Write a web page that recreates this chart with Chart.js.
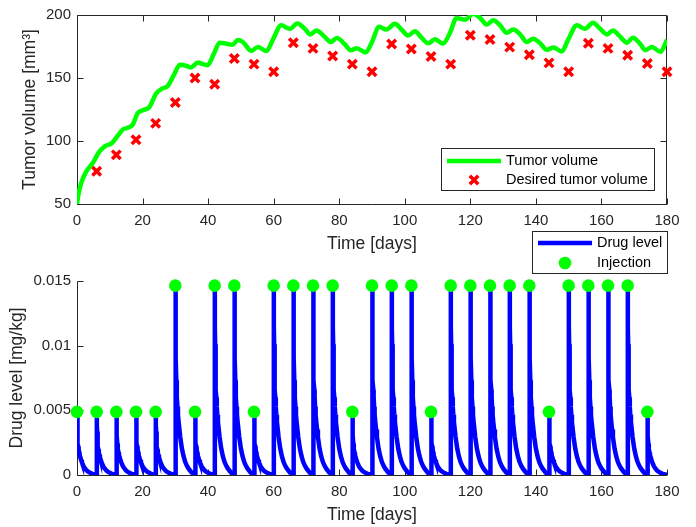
<!DOCTYPE html>
<html lang="en">
<head>
<meta charset="UTF-8">
<title>Tumor volume and drug level</title>
<script src="https://cdn.jsdelivr.net/npm/chart.js"></script>
<style>
  body { margin: 0; background: #fff; }
  #wrap { position: relative; width: 696px; height: 527px; }
  canvas { position: absolute; left: 0; }
  #tumorChart { top: 0; }
  #drugChart { top: 225px; }
</style>
</head>
<body>
<div id="wrap">
  <canvas id="tumorChart" width="696" height="258"></canvas>
  <canvas id="drugChart" width="696" height="302"></canvas>
</div>
<script>
// simulated tumor volume (mm^3)
const tumorDays = [0, 0.4, 1.2, 2.75, 4.8, 6.8, 8.6, 10.6, 12.4, 13.9, 15.5, 17, 18.5, 20.3, 22.1,
  24.1, 25.9, 27.6, 29.5, 31.4, 33.5, 34.7, 36.9, 38.4, 39.8, 41.8, 43.5, 45.5, 47.4, 49.1,
  50.6, 53.2, 55.2, 57.8, 59.8, 62.3, 64.9, 67.2, 69.5, 71.2, 73, 75.3, 77.4, 79.3, 81.7,
  83.5, 85.3, 88.1, 89.9, 92.2, 94.4, 97, 99, 101, 103.1, 105.1, 107.2, 109.2, 111.7, 113.8,
  115.8, 118.4, 120.9, 123, 125, 127, 129.1, 131.1, 133.1, 135.2, 137.2, 139.2, 141.3, 143.3,
  145.4, 147.9, 149.9, 152.5, 155, 157.4, 159.6, 161.7, 163.5, 165.5, 167.8, 169.6, 171.9,
  173.4, 175.4, 178, 180];
const tumorVolume = [50, 57, 66, 75.5, 82.5, 91.5, 96, 98.2, 104, 109, 110.5, 113, 122, 124.6, 127,
  137.5, 141.5, 143.5, 152, 160.5, 159.5, 158.3, 162.3, 161, 160.2, 169.5, 178, 177.3, 176.4, 180.2,
  178.6, 171.6, 174.7, 171.4, 180.7, 191.8, 189, 193.2, 189, 184.6, 187.7, 183.4, 178.6, 181.7, 176.8,
  172.1, 173.7, 170.3, 178, 190.6, 188.5, 193, 188.5, 183.8, 187.2, 182, 177.6, 180.7, 177.3, 185.9,
  197.7, 196.3, 201, 197.7, 192.4, 195.9, 191.8, 185.9, 188.5, 184.6, 178.6, 181.2, 177.6, 172.4,
  174.2, 171.1, 180.7, 191.8, 189, 193.8, 189, 184.6, 187.7, 183.4, 178, 182, 176.8,
  172.1, 174.7, 170.8, 180.2];

// target volume, one value every 6 days
const desiredDays = [6, 12, 18, 24, 30, 36, 42, 48, 54, 60, 66, 72, 78, 84, 90,
  96, 102, 108, 114, 120, 126, 132, 138, 144, 150, 156, 162, 168, 174, 180];
const desiredVolume = [76, 89, 101, 114, 130.5, 150, 145, 165.5, 161, 155, 178, 173.5, 167.5, 161, 155,
  177, 173, 167, 161, 184, 180.5, 174.5, 168.5, 162, 155, 177.5, 173.5, 168, 161.5, 155];

// injections (mg/kg)
const injectionDays = [0, 6, 12, 18, 24, 30, 36, 42, 48, 54, 60, 66, 72, 78, 84,
  90, 96, 102, 108, 114, 120, 126, 132, 138, 144, 150, 156, 162, 168, 174];
const injectionDose = [0.00488, 0.00488, 0.00488, 0.00488, 0.00488, 0.01464, 0.00488, 0.01464, 0.01464, 0.00488,
  0.01464, 0.01464, 0.01464, 0.01464, 0.00488, 0.01464, 0.01464, 0.01464, 0.00488, 0.01464,
  0.01464, 0.01464, 0.01464, 0.01464, 0.00488, 0.01464, 0.01464, 0.01464, 0.01464, 0.00488];

// drug level after one injection, days since the dose
const pulseOffsets = [0, 0.05, 0.1, 0.15, 0.2, 0.3, 0.4, 0.5, 0.65, 0.8, 1, 1.25, 1.5, 2, 2.5, 3, 3.5, 4, 5, 6];
const lowDoseLevel = [0.00488, 0.00429, 0.00381, 0.00337, 0.00303, 0.00244, 0.0022, 0.002, 0.00176, 0.00156,
  0.00137, 0.00117, 0.00098, 0.00068, 0.00049, 0.00034, 0.00024, 0.00017, 0.00006, 0.00002];
const highDoseLevel = [0.01464, 0.01288, 0.01142, 0.0101, 0.00908, 0.00732, 0.00659, 0.006, 0.00527, 0.00468,
  0.0041, 0.00351, 0.00293, 0.00205, 0.00146, 0.00102, 0.00073, 0.00051, 0.00018, 0.00006];

const dayTicks = [0, 20, 40, 60, 80, 100, 120, 140, 160, 180];
const dayTickLabels = ['0', '20', '40', '60', '80', '100', '120', '140', '160', '180'];
const volumeTicks = [50, 100, 150, 200];
const volumeTickLabels = ['50', '100', '150', '200'];
const drugTicks = [0, 0.005, 0.01, 0.015];
const drugTickLabels = ['0', '0.005', '0.01', '0.015'];

const axisColor = '#262626';
const fontFamily = '"Liberation Sans", Arial, Helvetica, sans-serif';
Chart.defaults.font.family = fontFamily;
Chart.defaults.color = axisColor;

// axis box with inward tick marks
const innerAxes = {
  id: 'innerAxes',
  beforeDatasetsDraw(chart, args, opts) {
    const { ctx, chartArea: a, scales: { x, y } } = chart;
    const len = 6;
    const L = a.left + 0.5, B = Math.round(a.bottom) + 0.5;
    const R = Math.round(a.right) - 0.5, T = Math.round(a.top) + 0.5;
    ctx.save();
    ctx.strokeStyle = axisColor;
    ctx.lineWidth = 1;
    ctx.beginPath();
    ctx.moveTo(L, T);
    ctx.lineTo(L, B);
    ctx.lineTo(R + 0.5, B);
    if (opts.box) {
      ctx.moveTo(L, T);
      ctx.lineTo(R, T);
      ctx.lineTo(R, B);
    }
    x.ticks.forEach(t => {
      const px = Math.round(x.getPixelForValue(t.value)) + 0.5;
      ctx.moveTo(px, B);
      ctx.lineTo(px, B - len);
      if (opts.box) {
        ctx.moveTo(px, T);
        ctx.lineTo(px, T + len);
      }
    });
    y.ticks.forEach(t => {
      const py = Math.round(y.getPixelForValue(t.value)) + 0.5;
      ctx.moveTo(L, py);
      ctx.lineTo(L + len, py);
      if (opts.box) {
        ctx.moveTo(R, py);
        ctx.lineTo(R - len, py);
      }
    });
    ctx.stroke();
    ctx.restore();
  }
};

// boxed legend at a fixed spot
const boxLegend = {
  id: 'boxLegend',
  afterDraw(chart, args, opts) {
    const { ctx } = chart;
    const [x0, y0, x1, y1] = opts.box;
    ctx.save();
    ctx.fillStyle = '#fff';
    ctx.fillRect(x0, y0, x1 - x0, y1 - y0);
    ctx.strokeStyle = axisColor;
    ctx.lineWidth = 1;
    ctx.strokeRect(x0 + 0.5, y0 + 0.5, x1 - x0 - 1, y1 - y0 - 1);
    ctx.font = '14.5px ' + fontFamily;
    ctx.textBaseline = 'middle';
    opts.rows.forEach(row => {
      const ds = chart.data.datasets[row.dataset];
      const [s0, s1] = opts.sample;
      const cx = (s0 + s1) / 2;
      if (row.kind === 'line') {
        ctx.strokeStyle = ds.borderColor;
        ctx.lineWidth = ds.borderWidth;
        ctx.beginPath();
        ctx.moveTo(s0, row.y);
        ctx.lineTo(s1, row.y);
        ctx.stroke();
      } else if (row.kind === 'x') {
        const r = ds.pointRadius * Math.SQRT1_2;
        ctx.strokeStyle = ds.pointBorderColor;
        ctx.lineWidth = ds.pointBorderWidth;
        ctx.beginPath();
        ctx.moveTo(cx - r, row.y - r);
        ctx.lineTo(cx + r, row.y + r);
        ctx.moveTo(cx - r, row.y + r);
        ctx.lineTo(cx + r, row.y - r);
        ctx.stroke();
      } else {
        ctx.fillStyle = ds.pointBackgroundColor;
        ctx.beginPath();
        ctx.arc(cx, row.y, ds.pointRadius, 0, Math.PI * 2);
        ctx.fill();
      }
      ctx.fillStyle = '#000';
      ctx.fillText(ds.label, opts.textX, row.y);
    });
    ctx.restore();
  }
};

function dayAxis(height, titlePad) {
  return {
    type: 'linear',
    min: 0,
    max: 180,
    afterBuildTicks: s => { s.ticks = dayTicks.map(v => ({ value: v })); },
    afterFit: s => { s.height = height; },
    ticks: { callback: (v, i) => dayTickLabels[i], font: { size: 15 }, padding: 8, autoSkip: false, maxRotation: 0 },
    grid: { display: false, drawTicks: false },
    border: { display: false },
    title: { display: true, text: 'Time [days]', font: { size: 17.5 }, padding: { top: 0, bottom: titlePad } }
  };
}

function valueAxis(min, max, ticks, labels, title, titlePad) {
  return {
    type: 'linear',
    min: min,
    max: max,
    afterBuildTicks: s => { s.ticks = ticks.map(v => ({ value: v })); },
    afterFit: s => { s.width = 77; },
    ticks: { callback: (v, i) => labels[i], font: { size: 15 }, padding: 6, autoSkip: false },
    grid: { display: false, drawTicks: false },
    border: { display: false },
    title: { display: true, text: title, font: { size: 17.5 }, padding: { top: titlePad, bottom: 0 } }
  };
}

const baseOptions = {
  responsive: false,
  animation: false,
  devicePixelRatio: 1,
  plugins: { legend: { display: false }, tooltip: { enabled: false } }
};

new Chart(document.getElementById('tumorChart'), {
  type: 'line',
  data: {
    datasets: [{
      label: 'Desired tumor volume',
      data: desiredDays.map((d, i) => ({ x: d, y: desiredVolume[i] })),
      showLine: false,
      pointStyle: 'crossRot',
      pointRadius: 6,
      pointBorderWidth: 3.5,
      pointBorderColor: '#ff0000',
      pointBackgroundColor: '#ff0000',
      clip: false,
      order: 0
    }, {
      label: 'Tumor volume',
      data: tumorDays.map((d, i) => ({ x: d, y: tumorVolume[i] })),
      borderColor: '#00ff00',
      borderWidth: 4.5,
      pointRadius: 0,
      cubicInterpolationMode: 'monotone',
      order: 1
    }]
  },
  options: {
    ...baseOptions,
    layout: { padding: { top: 12, right: 29, left: 0, bottom: 0 } },
    scales: {
      x: dayAxis(54, 3),
      y: valueAxis(50, 200, volumeTicks, volumeTickLabels, 'Tumor volume [mm³]', 20)
    },
    plugins: {
      ...baseOptions.plugins,
      innerAxes: { box: true },
      boxLegend: {
        box: [441, 148, 655, 191],
        sample: [447, 501],
        textX: 506,
        rows: [{ dataset: 1, kind: 'line', y: 161 }, { dataset: 0, kind: 'x', y: 180 }]
      }
    }
  },
  plugins: [innerAxes, boxLegend]
});

// drug level curve: each injection followed by its decay
const drugCurve = [];
injectionDays.forEach((day, i) => {
  const levels = injectionDose[i] > 0.01 ? highDoseLevel : lowDoseLevel;
  pulseOffsets.forEach((off, j) => drugCurve.push({ x: day + off, y: levels[j] }));
});

new Chart(document.getElementById('drugChart'), {
  type: 'line',
  data: {
    datasets: [{
      label: 'Injection',
      data: injectionDays.map((d, i) => ({ x: d, y: injectionDose[i] })),
      showLine: false,
      pointStyle: 'circle',
      pointRadius: 6.3,
      pointBorderWidth: 0,
      pointBackgroundColor: '#00ff00',
      clip: false,
      order: 0
    }, {
      label: 'Drug level',
      data: drugCurve,
      borderColor: '#0000ff',
      borderWidth: 4.5,
      pointRadius: 0,
      tension: 0,
      order: 1
    }]
  },
  options: {
    ...baseOptions,
    layout: { padding: { top: 56, right: 29, left: 0, bottom: 0 } },
    scales: {
      x: dayAxis(52, 1),
      y: valueAxis(0, 0.015, drugTicks, drugTickLabels, 'Drug level [mg/kg]', 7)
    },
    plugins: {
      ...baseOptions.plugins,
      innerAxes: { box: false },
      boxLegend: {
        box: [532, 6, 668, 49],
        sample: [538, 592],
        textX: 597,
        rows: [{ dataset: 1, kind: 'line', y: 18 }, { dataset: 0, kind: 'dot', y: 38 }]
      }
    }
  },
  plugins: [innerAxes, boxLegend]
});
</script>
</body>
</html>
